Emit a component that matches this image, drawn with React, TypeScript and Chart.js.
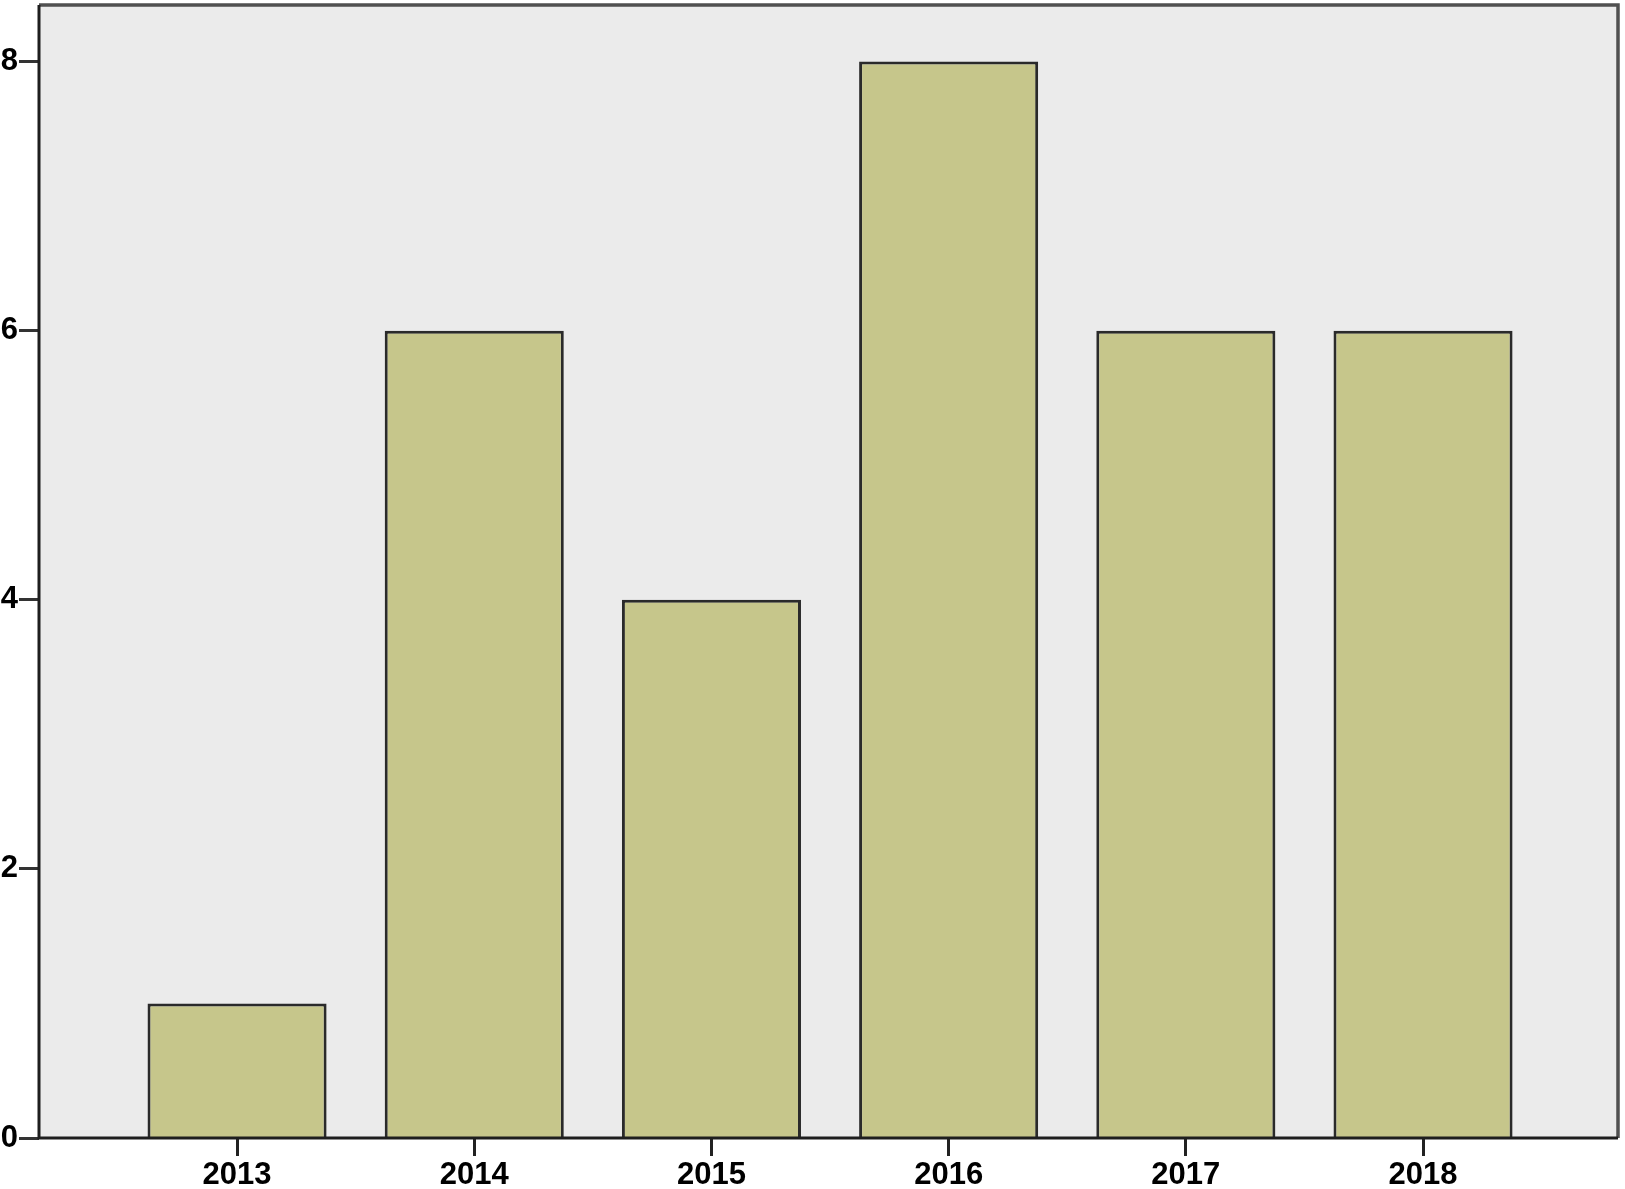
import React, { useEffect, useRef } from "react";
import { Chart, registerables } from "chart.js";

Chart.register(...registerables);

const categories = ["2013", "2014", "2015", "2016", "2017", "2018"];
const counts = [1, 6, 4, 8, 6, 6];
const yTicks = [0, 2, 4, 6, 8];

const W = 1625;
const H = 1189;

const framePlugin = {
  id: "frame",
  beforeDraw(chart: any) {
    const { ctx, chartArea: a } = chart;
    ctx.save();
    ctx.fillStyle = "#ebebeb";
    ctx.fillRect(a.left, a.top, a.right - a.left, a.bottom - a.top);
    ctx.restore();
  },
  afterDatasetsDraw(chart: any) {
    const { ctx, chartArea: a } = chart;
    ctx.save();
    ctx.lineWidth = 3.5;
    ctx.strokeStyle = "#505050";
    ctx.beginPath();
    ctx.moveTo(a.left, a.top);
    ctx.lineTo(a.right, a.top);
    ctx.lineTo(a.right, a.bottom);
    ctx.stroke();
    ctx.lineWidth = 3;
    ctx.strokeStyle = "#1e1e1e";
    ctx.beginPath();
    ctx.moveTo(a.left, a.top);
    ctx.lineTo(a.left, a.bottom);
    ctx.lineTo(a.right, a.bottom);
    ctx.stroke();
    ctx.restore();
  },
};

const tickFont = { family: "'Liberation Sans', Arial, sans-serif", size: 31, weight: "bold" as const };

export default function App() {
  const ref = useRef<HTMLCanvasElement | null>(null);
  useEffect(() => {
    document.body.style.margin = "0";
    const canvas = ref.current!;
    const chart = new Chart(canvas, {
      type: "bar",
      data: {
        datasets: [
          {
            data: counts.map((v, i) => ({ x: i, y: v })),
            backgroundColor: "#c6c68b",
            borderColor: "#2a2a2a",
            borderWidth: 3,
            barPercentage: 0.755,
            categoryPercentage: 1,
          },
        ],
      },
      options: {
        responsive: false,
        animation: false,
        layout: { padding: { top: 5, right: 7, left: 0, bottom: 0 } },
        plugins: { legend: { display: false }, tooltip: { enabled: false } },
        scales: {
          x: {
            type: "linear",
            min: -0.835,
            max: 5.822,
            offset: false,
            afterBuildTicks: (s: any) => {
              s.ticks = categories.map((_, i) => ({ value: i }));
            },
            afterFit: (s: any) => {
              s.height = 51;
              s.paddingLeft = 0;
              s.paddingRight = 0;
            },
            grid: {
              offset: false,
              drawOnChartArea: false,
              drawTicks: true,
              tickLength: 18,
              tickWidth: 3,
              tickColor: "#222222",
            },
            border: { display: false },
            ticks: {
              padding: 1,
              autoSkip: false,
              maxRotation: 0,
              color: "#000000",
              font: tickFont,
              callback: (v: any) => categories[Math.round(Number(v))] ?? "",
            },
          },
          y: {
            min: 0,
            max: 8.42,
            afterBuildTicks: (s: any) => {
              s.ticks = yTicks.map((v) => ({ value: v }));
            },
            afterFit: (s: any) => {
              s.width = 39;
              s.paddingTop = 0;
              s.paddingBottom = 0;
            },
            grid: {
              drawOnChartArea: false,
              drawTicks: true,
              tickLength: 20,
              tickWidth: 3,
              tickColor: "#333333",
            },
            border: { display: false },
            ticks: {
              padding: 1,
              color: "#000000",
              font: tickFont,
            },
          },
        },
      },
      plugins: [framePlugin],
    });
    return () => chart.destroy();
  }, []);
  return (
    <div style={{ width: W, height: H, background: "#ffffff" }}>
      <canvas ref={ref} width={W} height={H} style={{ display: "block" }} />
    </div>
  );
}
